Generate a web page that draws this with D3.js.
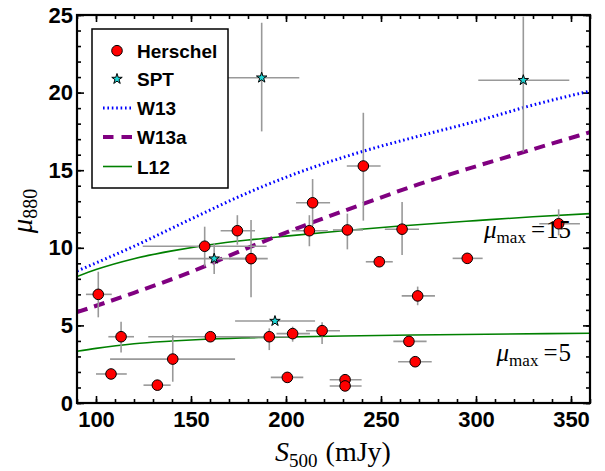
<!DOCTYPE html>
<html><head><meta charset="utf-8">
<script src="https://cdn.jsdelivr.net/npm/d3@7"></script>
<style>body{margin:0;background:#fff}svg{display:block}</style>
</head><body>
<svg id="c" width="605" height="471"></svg>
<script>
// ---- data ----
const herschelX = [101.2,107.9,113.2,132.3,140.4,157.2,160.2,174.4,181.6,191.2,200.7,203.5,212.3,214.0,219.0,232.3,231.1,231.1,240.7,249.1,261.1,264.7,268.0,269.3,295.4,343.5];
const herschelY = [7.0,1.87,4.27,1.15,2.83,10.1,4.27,11.1,9.3,4.27,1.65,4.47,11.1,12.9,4.66,11.15,1.5,1.1,15.27,9.1,11.2,3.97,2.66,6.9,9.32,11.55];
const herschelXlo = [94.7,100,106.5,125,107.4,124.6,127.5,165.6,170,181,192,195,203,205.3,210.5,224.7,223,223,232,242,252,256.5,259,260.9,287.7,333.3];
const herschelXhi = [108.3,116.2,120,139.3,173.2,189.8,192,183.7,190.4,201,209.1,212.6,222,223.2,228.4,240.5,239.8,239.8,249.8,256.2,270,274,276.7,278.4,303.5,354.7];
const herschelYlo = [5.52,1.87,3.26,1.15,1.37,8.8,4.27,10.2,6.81,3.41,1.65,3.95,10.1,11.4,3.8,9.9,1.5,1.1,11.75,9.1,9.54,3.97,2.66,6.3,9.32,10.8];
const herschelYhi = [8.46,1.87,5.24,1.15,4.38,11.36,4.27,12.1,11.79,4.81,1.65,4.92,12.1,14.43,5.2,12.2,1.5,1.1,18.7,9.1,12.95,3.97,2.66,7.5,9.32,12.48];

const sptX = [162.2,187.2,194.2,324.9];
const sptY = [9.3,20.96,5.28,20.8];
const sptXlo = [143.3,169.6,173.2,301.2];
const sptXhi = [181.4,207,215.3,349.1];
const sptYlo = [8.31,17.5,5.28,16.2];
const sptYhi = [10.29,24.5,5.28,24.9];

const w13X = [90,120,150,180,210,240,270,300,330,360];
const w13Y = [8.5,10.1,11.85,13.55,15.0,16.2,17.2,18.15,19.2,20.1];
const w13aX = [90,120,150,180,210,240,270,300,330,360];
const w13aY = [5.85,7.1,8.45,10.0,11.45,12.8,14.1,15.25,16.35,17.45];
const l12hiX = [90,100,120,140,160,180,200,230,260,300,330,360];
const l12hiY = [8.15,8.6,9.3,9.8,10.2,10.5,10.75,11.1,11.4,11.75,12.0,12.2];
const l12loX = [90,100,120,140,160,190,230,280,360];
const l12loY = [3.33,3.52,3.82,3.99,4.12,4.23,4.32,4.4,4.49];

const xMajor = [100,150,200,250,300,350];
const yMajor = [0,5,10,15,20,25];
const legendLabels = ["Herschel","SPT","W13","W13a","L12"];

// ---- layout ----
const L=77, R=590, T=15, B=403;
const x = d3.scaleLinear().domain([90,360]).range([L,R]);
const y = d3.scaleLinear().domain([0,25]).range([B,T]);
const svg = d3.select("#c");
const sans = "'Liberation Sans', Arial, sans-serif";
const serif = "'Liberation Serif', 'Times New Roman', serif";

const xMinor = d3.range(90,361,10);
const yMinor = d3.range(0,26,1);

function styleAxis(g){ g.select(".domain").remove(); g.selectAll(".tick line").attr("stroke","#000").attr("stroke-width",1.6); }

// bottom
svg.append("g").attr("transform",`translate(0,${B})`)
  .call(d3.axisBottom(x).tickValues(xMinor).tickSize(-4).tickFormat("")).call(styleAxis);
svg.append("g").attr("transform",`translate(0,${B})`)
  .call(d3.axisBottom(x).tickValues(xMajor).tickSize(-7).tickPadding(8).tickFormat(d3.format("d"))).call(styleAxis)
  .selectAll("text").attr("font-family",sans).attr("font-weight","bold").attr("font-size",22).attr("fill","#000").attr("dy","0.72em");
// top
svg.append("g").attr("transform",`translate(0,${T})`)
  .call(d3.axisTop(x).tickValues(xMinor).tickSize(-4).tickFormat("")).call(styleAxis);
svg.append("g").attr("transform",`translate(0,${T})`)
  .call(d3.axisTop(x).tickValues(xMajor).tickSize(-7).tickFormat("")).call(styleAxis);
// left
svg.append("g").attr("transform",`translate(${L},0)`)
  .call(d3.axisLeft(y).tickValues(yMinor).tickSize(-4).tickFormat("")).call(styleAxis);
svg.append("g").attr("transform",`translate(${L},0)`)
  .call(d3.axisLeft(y).tickValues(yMajor).tickSize(-7).tickPadding(4).tickFormat(d3.format("d"))).call(styleAxis)
  .selectAll("text").attr("font-family",sans).attr("font-weight","bold").attr("font-size",22).attr("fill","#000");
// right
svg.append("g").attr("transform",`translate(${R},0)`)
  .call(d3.axisRight(y).tickValues(yMinor).tickSize(-4).tickFormat("")).call(styleAxis);
svg.append("g").attr("transform",`translate(${R},0)`)
  .call(d3.axisRight(y).tickValues(yMajor).tickSize(-7).tickFormat("")).call(styleAxis);

// clip
svg.append("clipPath").attr("id","clip").append("rect").attr("x",L).attr("y",T).attr("width",R-L).attr("height",B-T);
const plot = svg.append("g").attr("clip-path","url(#clip)");

// model curves
const line = d3.line().x(d=>x(d[0])).y(d=>y(d[1])).curve(d3.curveMonotoneX);
const zip = (a,b)=>a.map((v,i)=>[v,b[i]]);
const blueDash = "1.6,2.8";
plot.append("path").attr("d",line(zip(l12hiX,l12hiY))).attr("fill","none").attr("stroke","#008000").attr("stroke-width",1.6);
plot.append("path").attr("d",line(zip(l12loX,l12loY))).attr("fill","none").attr("stroke","#008000").attr("stroke-width",1.6);
plot.append("path").attr("d",line(zip(w13X,w13Y))).attr("fill","none").attr("stroke","#0000ff").attr("stroke-width",3).attr("stroke-dasharray",blueDash);
plot.append("path").attr("d",line(zip(w13aX,w13aY))).attr("fill","none").attr("stroke","#800080").attr("stroke-width",4).attr("stroke-dasharray","11,7");

// error bars
const errCol = "#999999";
function errbars(X,Y,xlo,xhi,ylo,yhi){
  const g = plot.append("g").attr("stroke",errCol).attr("stroke-width",1.6);
  X.forEach((v,i)=>{
    if (xhi[i]>xlo[i]) g.append("line").attr("x1",x(xlo[i])).attr("x2",x(xhi[i])).attr("y1",y(Y[i])).attr("y2",y(Y[i]));
    if (yhi[i]>ylo[i]) g.append("line").attr("x1",x(v)).attr("x2",x(v)).attr("y1",y(ylo[i])).attr("y2",y(yhi[i]));
  });
}
errbars(herschelX,herschelY,herschelXlo,herschelXhi,herschelYlo,herschelYhi);
errbars(sptX,sptY,sptXlo,sptXhi,sptYlo,sptYhi);

// points
plot.append("g").selectAll("circle").data(herschelX).join("circle")
  .attr("cx",d=>x(d)).attr("cy",(d,i)=>y(herschelY[i])).attr("r",5.3)
  .attr("fill","#ff0000").attr("stroke","#000").attr("stroke-width",1);
const star = d3.symbol().type(d3.symbolStar).size(34);
plot.append("g").selectAll("path").data(sptX).join("path")
  .attr("d",star).attr("transform",(d,i)=>`translate(${x(d)},${y(sptY[i])})`)
  .attr("fill","#1ed6d6").attr("stroke","#000").attr("stroke-width",1);

// frame
svg.append("rect").attr("x",L).attr("y",T).attr("width",R-L).attr("height",B-T)
  .attr("fill","none").attr("stroke","#000").attr("stroke-width",2.2);

// annotations
function muText(xr, yb, num){
  const t = svg.append("text").attr("x",xr).attr("y",yb).attr("text-anchor","end")
    .attr("font-family",serif).attr("font-size",25).attr("fill","#000");
  t.append("tspan").attr("font-style","italic").text("μ");
  t.append("tspan").attr("font-size",17).attr("dy",5).text("max");
  t.append("tspan").attr("dy",-5).attr("dx",5).text("=");
  t.append("tspan").attr("dx",1).text(num);
}
muText(571,238,"15");
muText(571,361,"5");

// axis titles
const xt = svg.append("text").attr("x",333).attr("y",461).attr("text-anchor","middle")
  .attr("font-family",serif).attr("font-size",28).attr("fill","#000");
xt.append("tspan").attr("font-style","italic").text("S");
xt.append("tspan").attr("font-size",19).attr("dy",6).text("500");
xt.append("tspan").attr("dy",-6).attr("dx",8).text("(mJy)");

const yt = svg.append("text").attr("transform","translate(32,211) rotate(-90)").attr("text-anchor","middle")
  .attr("font-family",serif).attr("font-size",29).attr("fill","#000");
yt.append("tspan").attr("font-style","italic").text("μ");
yt.append("tspan").attr("font-size",20).attr("dy",5).text("880");

// legend
const lg = svg.append("g");
lg.append("rect").attr("x",92).attr("y",29).attr("width",136).attr("height",159)
  .attr("fill","#fff").attr("stroke","#000").attr("stroke-width",1.5);
const rows = [50.7,79,108,137,166.5];
const sx = 117, lx1 = 103, lx2 = 132, tx = 137;
lg.append("circle").attr("cx",sx).attr("cy",rows[0]).attr("r",5.3).attr("fill","#ff0000").attr("stroke","#000").attr("stroke-width",1);
lg.append("path").attr("d",star).attr("transform",`translate(${sx},${rows[1]})`).attr("fill","#1ed6d6").attr("stroke","#000").attr("stroke-width",1);
lg.append("line").attr("x1",lx1).attr("x2",lx2).attr("y1",rows[2]).attr("y2",rows[2]).attr("stroke","#0000ff").attr("stroke-width",3).attr("stroke-dasharray",blueDash);
lg.append("line").attr("x1",lx1).attr("x2",lx2).attr("y1",rows[3]).attr("y2",rows[3]).attr("stroke","#800080").attr("stroke-width",4).attr("stroke-dasharray","10.5,8");
lg.append("line").attr("x1",lx1).attr("x2",lx2).attr("y1",rows[4]).attr("y2",rows[4]).attr("stroke","#008000").attr("stroke-width",1.6);
lg.selectAll("text.lab").data(legendLabels).join("text").attr("class","lab")
  .attr("x",tx).attr("y",(d,i)=>rows[i]+7).text(d=>d)
  .attr("font-family",sans).attr("font-weight","bold").attr("font-size",19).attr("fill","#000");
</script>
</body></html>
